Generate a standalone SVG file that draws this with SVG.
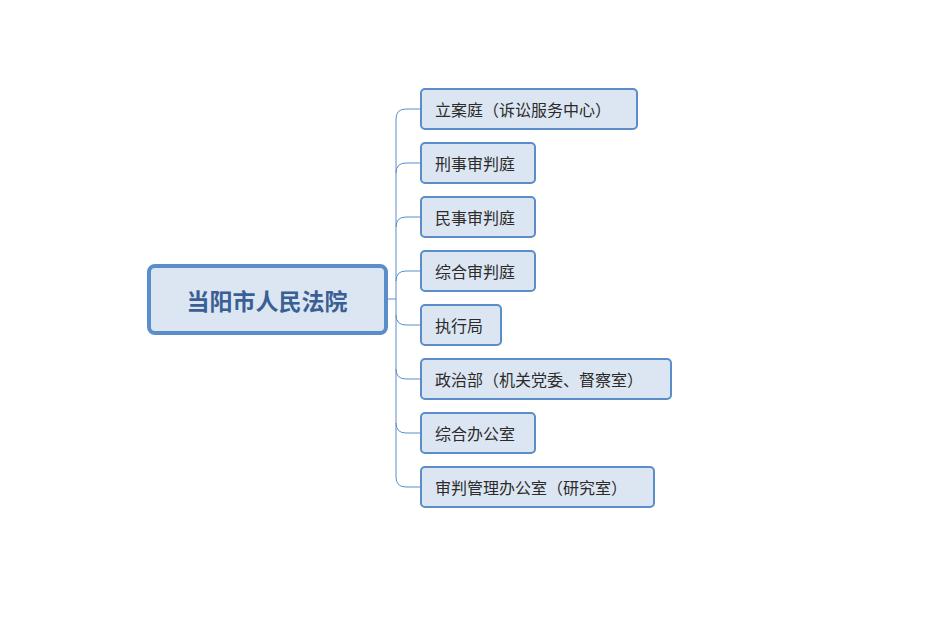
<svg xmlns="http://www.w3.org/2000/svg" width="932" height="628" viewBox="0 0 932 628">
<style>
.c{fill:#dce6f2;stroke:#5b8dcb;stroke-width:2}
.t{font-family:"Noto Sans CJK SC",sans-serif;font-size:16px;fill:#2b2b2b;dominant-baseline:central}
.l{fill:none;stroke:#5b8dcb;stroke-width:1}
</style>
<rect width="932" height="628" fill="#fff"/>
<g id="connectors">
<path class="l" d="M386 299H396"/>
<path class="l" d="M421 109H406Q396 109 396 119V477Q396 487 406 487H421"/>
<path class="l" d="M421 163H406Q396 163 396 173"/>
<path class="l" d="M421 217H406Q396 217 396 227"/>
<path class="l" d="M421 271H406Q396 271 396 281"/>
<path class="l" d="M421 325H406Q396 325 396 315"/>
<path class="l" d="M421 379H406Q396 379 396 369"/>
<path class="l" d="M421 433H406Q396 433 396 423"/>
</g>
<g id="root"><rect x="149" y="266" width="237" height="67" rx="6" fill="#dce6f2" stroke="#5b8dcb" stroke-width="4"/>
<text x="267" y="300" text-anchor="middle" style="font-family:'Noto Sans CJK SC',sans-serif;font-size:23px;font-weight:bold;fill:#3a5f94;dominant-baseline:central">当阳市人民法院</text></g>
<g id="n1"><rect class="c" x="421" y="89" width="216" height="40" rx="4"/><text class="t" x="435" y="109">立案庭（诉讼服务中心）</text></g>
<g id="n2"><rect class="c" x="421" y="143" width="114" height="40" rx="4"/><text class="t" x="435" y="163">刑事审判庭</text></g>
<g id="n3"><rect class="c" x="421" y="197" width="114" height="40" rx="4"/><text class="t" x="435" y="217">民事审判庭</text></g>
<g id="n4"><rect class="c" x="421" y="251" width="114" height="40" rx="4"/><text class="t" x="435" y="271">综合审判庭</text></g>
<g id="n5"><rect class="c" x="421" y="305" width="80" height="40" rx="4"/><text class="t" x="435" y="325">执行局</text></g>
<g id="n6"><rect class="c" x="421" y="359" width="250" height="40" rx="4"/><text class="t" x="435" y="379">政治部（机关党委、督察室）</text></g>
<g id="n7"><rect class="c" x="421" y="413" width="114" height="40" rx="4"/><text class="t" x="435" y="433">综合办公室</text></g>
<g id="n8"><rect class="c" x="421" y="467" width="233" height="40" rx="4"/><text class="t" x="435" y="487">审判管理办公室（研究室）</text></g>
</svg>
